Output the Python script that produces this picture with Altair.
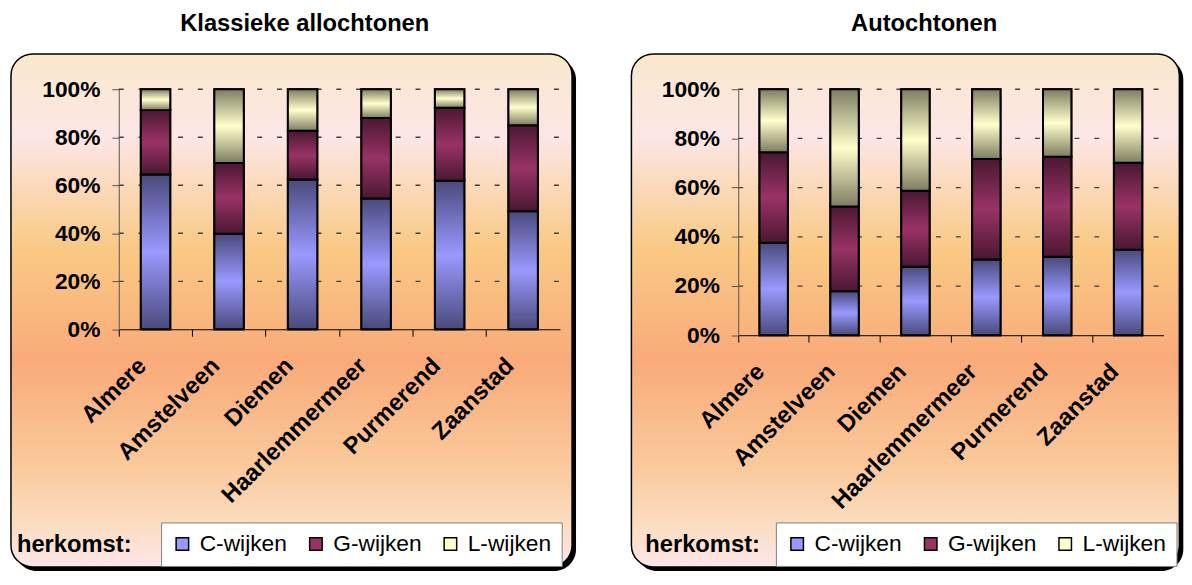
import altair as alt
import pandas as pd

FONT = "Liberation Sans"

cities = ["Almere", "Amstelveen", "Diemen", "Haarlemmermeer", "Purmerend", "Zaanstad"]
series = ["C-wijken", "G-wijken", "L-wijken"]

allo_c = [64.5, 39.8, 62.4, 54.5, 61.9, 49.2]
allo_g = [26.8, 29.5, 20.3, 33.5, 30.4, 35.8]
allo_l = [8.7, 30.7, 17.3, 12.0, 7.7, 15.0]

auto_c = [37.6, 17.9, 27.8, 30.8, 31.9, 34.8]
auto_g = [36.8, 34.4, 30.9, 40.8, 40.7, 35.3]
auto_l = [25.6, 47.7, 41.3, 28.4, 27.4, 29.9]

y_ticks = [0, 0.2, 0.4, 0.6, 0.8, 1.0]
grid_vals = [0.2, 0.4, 0.6, 0.8, 1.0]
legend_colors = ["#9999FF", "#993366", "#FFFFCC"]


def vgrad(stops):
    return alt.LinearGradient(
        gradient="linear",
        stops=[alt.GradientStop(offset=o, color=c) for o, c in stops],
        x1=0, x2=0, y1=0, y2=1,
    )


bar_grads = {
    "C-wijken": vgrad([(0, "#4A4A7C"), (0.5, "#9999FF"), (1, "#4A4A7C")]),
    "G-wijken": vgrad([(0, "#4A1832"), (0.5, "#993366"), (1, "#4A1832")]),
    "L-wijken": vgrad([(0, "#7D7D62"), (0.5, "#FFFFCC"), (1, "#7D7D62")]),
}

bg_grad = vgrad([
    (0.0, "#FAE8CC"),
    (0.16, "#FCE6E6"),
    (0.38, "#F9C984"),
    (0.60, "#F9AA7A"),
    (0.80, "#FAC99A"),
    (0.92, "#FBDDC2"),
    (1.0, "#FCE6E8"),
])


def panel(title, c, g, l, W, H, box, title_x, herk_x, leg_x, leg_y, anchor=None):
    rows = []
    for i, city in enumerate(cities):
        for k, (s, vals) in enumerate(zip(series, [c, g, l])):
            rows.append({"stad": city, "herkomst": s, "ord": k, "waarde": vals[i]})
    df = pd.DataFrame(rows)
    one = pd.DataFrame({"k": [0]})
    grid_df = pd.DataFrame({"t": grid_vals})

    xscale = alt.Scale(domain=cities, paddingInner=0, paddingOuter=0)
    yscale = alt.Scale(domain=[0, 1], nice=False)

    x_axis = alt.Axis(
        title=None, labelAngle=-45, labelAlign="right", labelBaseline="middle",
        labelFont=FONT, labelFontSize=24, labelFontWeight="bold", labelColor="black",
        bandPosition=0, labelOffset=-13, labelPadding=26, labelLimit=0,
        tickSize=7, tickColor="black", domainColor="black", domainWidth=1,
        zindex=1, labelOverlap=False, labelBound=False, grid=False,
    )
    y_axis = alt.Axis(
        values=y_ticks, format=".0%", title=None, labelFont=FONT, labelFontSize=23,
        labelFontWeight="bold", labelColor="black", tickSize=7, tickColor="#555555",
        domainColor="#555555", labelPadding=12, zindex=1, grid=False,
    )

    bx0, bx1, by0, by1 = box
    layers = []
    if anchor is not None:
        ax0, ax1, ay0, ay1 = anchor
        layers.append(
            alt.Chart(one).mark_rect(fill="white", opacity=0).encode(
                x=alt.value(ax0), x2=alt.value(ax1), y=alt.value(ay0), y2=alt.value(ay1)
            )
        )
    shadow = alt.Chart(one).mark_rect(cornerRadius=22, fill="black").encode(
        x=alt.value(bx0 + 4), x2=alt.value(bx1 + 4), y=alt.value(by0 + 4), y2=alt.value(by1 + 4)
    )
    bg = alt.Chart(one).mark_rect(cornerRadius=22, fill=bg_grad, stroke="black", strokeWidth=1.5).encode(
        x=alt.value(bx0), x2=alt.value(bx1), y=alt.value(by0), y2=alt.value(by1)
    )
    grid = alt.Chart(grid_df).mark_rule(strokeDash=[5, 15], color="#404040", strokeWidth=1.3).encode(
        y=alt.Y("t:Q", scale=yscale, axis=y_axis), x=alt.value(0), x2=alt.value(W)
    )
    base_bar = alt.Chart(df).mark_bar(stroke="black", strokeWidth=2, width={"band": 0.4}).encode(
        x=alt.X("stad:N", sort=cities, scale=xscale, axis=x_axis),
        y=alt.Y("waarde:Q", stack="normalize", scale=yscale, axis=y_axis),
        color=alt.Color(
            "herkomst:N",
            scale=alt.Scale(domain=series, range=legend_colors),
            legend=alt.Legend(
                title=None, orient="none", legendX=leg_x, legendY=leg_y,
                direction="horizontal", columns=3, labelFont=FONT, labelFontSize=23,
                labelColor="black", symbolType="square", symbolSize=160,
                symbolStrokeColor="black", symbolStrokeWidth=1.5, symbolOpacity=1,
                padding=10, fillColor="white", strokeColor="#808080",
                labelOffset=6, columnPadding=17,
            ),
        ),
        order=alt.Order("ord:Q", sort="ascending"),
    )
    layers += [shadow, bg, grid, base_bar]
    for s in series:
        layers.append(
            alt.Chart(df)
            .transform_stack(
                stack="waarde", groupby=["stad"], as_=["y0", "y1"], offset="normalize",
                sort=[alt.SortField("ord", order="ascending")],
            )
            .transform_filter(alt.datum.herkomst == s)
            .mark_bar(fill=bar_grads[s], stroke="black", strokeWidth=2, width={"band": 0.4})
            .encode(
                x=alt.X("stad:N", sort=cities, scale=xscale, axis=x_axis),
                y=alt.Y("y0:Q", scale=yscale, axis=y_axis),
                y2="y1:Q",
            )
        )
    layers.append(
        alt.Chart(one).mark_text(
            text=title, font=FONT, fontSize=24, fontWeight="bold", color="black",
            align="center", baseline="alphabetic",
        ).encode(x=alt.value(title_x), y=alt.value(-58.5))
    )
    layers.append(
        alt.Chart(one).mark_text(
            text="herkomst:", font=FONT, fontSize=24, fontWeight="bold", color="black",
            align="left", baseline="alphabetic",
        ).encode(x=alt.value(herk_x), y=alt.value(468))
    )
    return alt.layer(*layers).properties(width=W, height=H)


left = panel(
    "Klassieke allochtonen", allo_c, allo_g, allo_l, 446, 242.7,
    (-109, 458.3, -35.7, 483), 188, -103, 42.8, 438,
    anchor=(-111, 1065, -78, 487),
)
right = panel(
    "Autochtonen", auto_c, auto_g, auto_l, 430, 248.7,
    (-108, 446, -35.7, 483), 188, -94, 38.1, 438,
)

chart = (
    alt.hconcat(left, right, spacing=180.3, bounds="flush")
    .resolve_scale(color="independent", x="independent", y="independent")
    .properties(padding=0)
    .configure_view(stroke=None)
    .configure(font=FONT)
)

chart.save("out.html", embed_options={"renderer": "svg", "actions": False})
